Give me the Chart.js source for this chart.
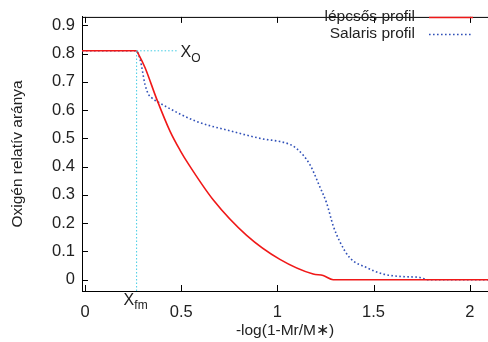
<!DOCTYPE html>
<html>
<head>
<meta charset="utf-8">
<script src="https://cdn.jsdelivr.net/npm/chart.js@4"></script>
<style>
html,body{margin:0;padding:0;background:#fff;}
#wrap{width:488px;height:342px;position:relative;}
</style>
</head>
<body>
<div id="wrap"><canvas id="c" width="488" height="342"></canvas></div>
<script>
// ---- data ----
const stepX = [-0.016, 0.265, 0.28, 0.312, 0.372, 0.442, 0.494, 0.537, 0.667, 0.84, 1.013, 1.186, 1.238, 1.29, 2.1];
const stepY = [0.81, 0.81, 0.795, 0.75, 0.64, 0.525, 0.458, 0.41, 0.282, 0.157, 0.072, 0.02, 0.015, 0, 0];

const salX = [-0.016, 0.265, 0.286, 0.312, 0.329, 0.346, 0.407, 0.58, 0.753, 0.926, 1.013, 1.06, 1.1, 1.169, 1.221, 1.256, 1.29, 1.325, 1.377, 1.463, 1.55, 1.65, 1.74, 1.78, 2.1];
const salY = [0.81, 0.81, 0.78, 0.69, 0.657, 0.644, 0.618, 0.56, 0.527, 0.498, 0.489, 0.48, 0.464, 0.407, 0.328, 0.271, 0.191, 0.134, 0.077, 0.043, 0.02, 0.011, 0.008, 0, 0];

const seriesLabels = ['lépcsős profil', 'Salaris profil'];
const xTicks = [0, 0.5, 1, 1.5, 2];
const yTicks = [0, 0.1, 0.2, 0.3, 0.4, 0.5, 0.6, 0.7, 0.8, 0.9];
const markerX = 0.268;   // X_fm
const markerY = 0.81;    // X_O
const markerXEnd = 0.476;
const xTitle = '-log(1-Mr/M\u2217)';
const yTitle = 'Oxigén relatív aránya';

const FONT = '"Liberation Sans", Arial, sans-serif';
const TXT = '#222';
const RED = '#f01818';
const BLUE = '#3050b8';
const CYAN = '#40cce4';

const toPts = (xs, ys) => xs.map((x, i) => ({x: x, y: ys[i]}));

const decor = {
  id: 'decor',
  afterDatasetsDraw(chart) {
    const {ctx, chartArea: a, scales: {x, y}} = chart;
    ctx.save();
    ctx.strokeStyle = '#000';
    ctx.lineWidth = 1;
    // top border
    ctx.beginPath();
    ctx.moveTo(a.left, a.top + 0.5);
    ctx.lineTo(a.right, a.top + 0.5);
    ctx.stroke();
    // inward ticks
    ctx.beginPath();
    xTicks.forEach(v => {
      const px = Math.round(x.getPixelForValue(v)) + 0.5;
      ctx.moveTo(px, a.bottom); ctx.lineTo(px, a.bottom - 6);
      ctx.moveTo(px, a.top); ctx.lineTo(px, a.top + 6);
    });
    yTicks.forEach(v => {
      const py = Math.round(y.getPixelForValue(v)) + 0.5;
      ctx.moveTo(a.left, py); ctx.lineTo(a.left + 6, py);
    });
    ctx.stroke();

    // y-axis title
    ctx.fillStyle = TXT;
    ctx.save();
    ctx.translate(18, (a.top + a.bottom) / 2);
    ctx.rotate(-Math.PI / 2);
    ctx.textAlign = 'center';
    ctx.textBaseline = 'middle';
    ctx.font = '15.5px ' + FONT;
    ctx.fillText(yTitle, 0, 0);
    ctx.restore();

    // X_O label
    ctx.textBaseline = 'middle';
    ctx.textAlign = 'left';
    const ox = x.getPixelForValue(markerXEnd) + 4;
    const oy = y.getPixelForValue(markerY);
    ctx.font = '16px ' + FONT;
    ctx.fillText('X', ox, oy + 2);
    const wX = ctx.measureText('X').width;
    ctx.font = '12px ' + FONT;
    ctx.fillText('O', ox + wX, oy + 8);

    // X_fm label
    const fx = x.getPixelForValue(markerX) - 13;
    const fy = a.bottom + 10;
    ctx.font = '16px ' + FONT;
    ctx.fillText('X', fx, fy);
    ctx.font = '12px ' + FONT;
    ctx.fillText('fm', fx + wX, fy + 5);

    // legend
    ctx.font = '15.5px ' + FONT;
    ctx.textAlign = 'right';
    const ds = chart.data.datasets.filter(d => !d.hideLegend);
    ds.forEach((d, i) => {
      const ly = 17 + i * 17;
      ctx.fillStyle = TXT;
      ctx.fillText(d.label, 415, ly);
      ctx.strokeStyle = d.borderColor;
      ctx.lineWidth = d.borderWidth;
      ctx.setLineDash(d.borderDash || []);
      ctx.beginPath();
      ctx.moveTo(429, ly + 0.5);
      ctx.lineTo(473, ly + 0.5);
      ctx.stroke();
    });
    ctx.restore();
  }
};

new Chart(document.getElementById('c'), {
  type: 'line',
  data: {
    datasets: [
      {label: 'vline', hideLegend: true, data: [{x: markerX, y: -0.04}, {x: markerX, y: markerY}],
       borderColor: CYAN, borderWidth: 1, borderDash: [1.5, 2], pointRadius: 0, tension: 0},
      {label: 'hline', hideLegend: true, data: [{x: markerX, y: markerY}, {x: markerXEnd, y: markerY}],
       borderColor: CYAN, borderWidth: 1, borderDash: [1.5, 2], pointRadius: 0, tension: 0},
      {label: seriesLabels[0], data: toPts(stepX, stepY), borderColor: RED, borderWidth: 1.6,
       pointRadius: 0, cubicInterpolationMode: 'monotone'},
      {label: seriesLabels[1], data: toPts(salX, salY), borderColor: BLUE, borderWidth: 1.6,
       borderDash: [1.6, 2.4], pointRadius: 0, cubicInterpolationMode: 'monotone'}
    ]
  },
  options: {
    responsive: false,
    animation: false,
    devicePixelRatio: 1,
    layout: {padding: {top: 7, right: 0, left: 0, bottom: 0}},
    plugins: {legend: {display: false}, tooltip: {enabled: false}},
    scales: {
      x: {
        type: 'linear', min: -0.016, max: 2.095,
        afterBuildTicks: s => { s.ticks = xTicks.map(v => ({value: v})); },
        afterFit: s => { s.height = 51; },
        grid: {display: false, drawTicks: false, tickLength: 0},
        border: {display: true, color: '#000', width: 1},
        ticks: {color: TXT, font: {family: FONT, size: 16.5}, padding: 12, maxRotation: 0,
                callback: v => String(v)},
        title: {display: true, text: xTitle, color: TXT, font: {family: FONT, size: 15.5},
                padding: {top: 0, bottom: 2}}
      },
      y: {
        type: 'linear', min: -0.04, max: 0.93,
        afterBuildTicks: s => { s.ticks = yTicks.map(v => ({value: v})); },
        afterFit: s => { s.width = 82; },
        grid: {display: false, drawTicks: false, tickLength: 0},
        border: {display: true, color: '#000', width: 1},
        ticks: {color: TXT, font: {family: FONT, size: 16.5}, padding: 7,
                callback: v => (v === 0 ? '0' : v.toFixed(1))},
        title: {display: false, text: yTitle}
      }
    }
  },
  plugins: [decor]
});
</script>
</body>
</html>
